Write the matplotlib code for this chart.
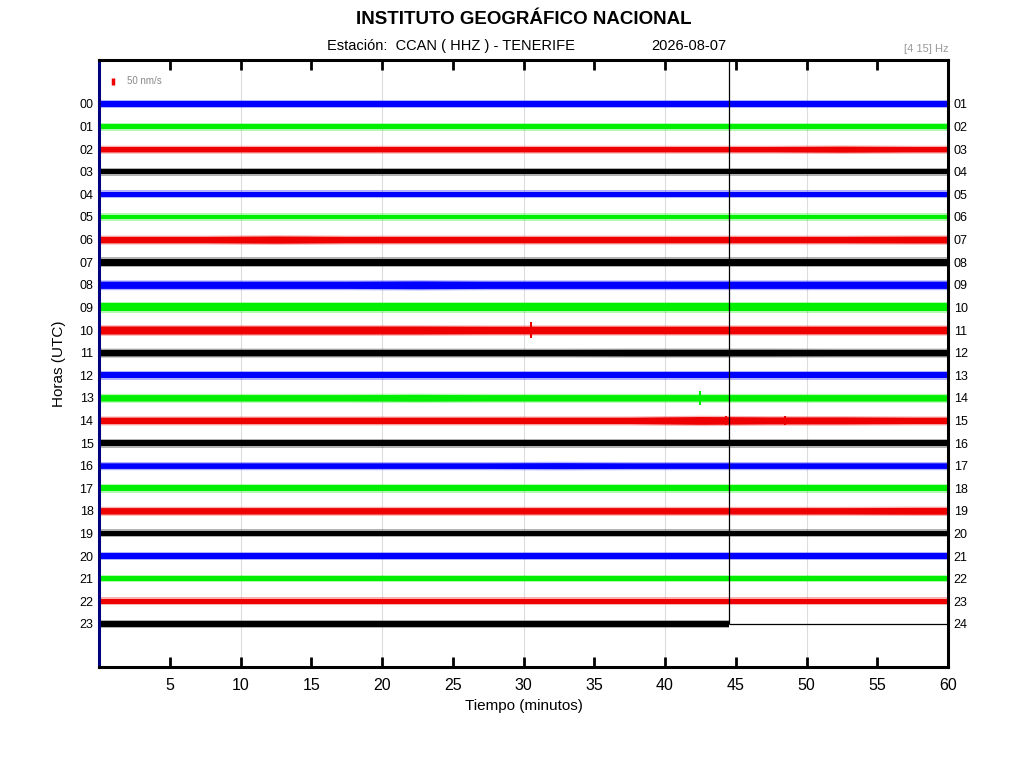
import numpy as np
import matplotlib.pyplot as plt

plt.rcParams['font.family'] = ['Liberation Sans', 'DejaVu Sans']

# helicorder: one row per hour, 0-60 minutes
hours = list(range(24))
left_labels = [f"{h:02d}" for h in hours]
right_labels = [f"{h + 1:02d}" for h in hours]
trace_colors = ['#0000ff', '#00ee00', '#ee0000', '#000000']

block_mid = [2.5, 7.5, 12.5, 17.5, 22.5, 27.5, 32.5, 37.5, 42.5, 47.5, 52.5, 57.5]

# half-width of each trace (pixels) per 5-minute block
amp = [
    [2.7, 2.7, 2.7, 2.7, 2.7, 2.7, 2.7, 2.7, 2.7, 2.7, 2.7, 2.7],  # 00
    [2.7, 2.7, 2.7, 2.7, 2.7, 2.7, 2.7, 2.7, 2.7, 2.7, 2.7, 2.7],  # 01
    [2.7, 2.7, 2.7, 2.7, 2.7, 2.7, 2.7, 2.7, 2.7, 2.7, 3.0, 2.7],  # 02
    [2.7, 2.7, 2.7, 2.7, 2.7, 2.7, 2.7, 2.7, 2.7, 2.7, 2.7, 2.7],  # 03
    [2.7, 2.7, 2.7, 2.7, 2.7, 2.7, 2.7, 2.7, 2.7, 2.7, 2.7, 2.7],  # 04
    [2.4, 2.4, 2.4, 2.4, 2.4, 2.4, 2.4, 2.4, 2.4, 2.4, 2.4, 2.4],  # 05
    [3.2, 3.2, 3.6, 3.2, 3.2, 3.2, 3.2, 3.2, 3.2, 3.2, 3.2, 3.4],  # 06
    [3.6, 3.6, 3.6, 3.6, 3.6, 3.6, 3.6, 3.6, 3.6, 3.6, 3.6, 3.6],  # 07
    [3.6, 3.6, 3.6, 3.6, 3.9, 3.6, 3.6, 3.6, 3.6, 3.6, 3.6, 3.6],  # 08
    [4.0, 4.0, 4.0, 4.0, 4.0, 4.0, 4.0, 4.0, 4.0, 4.0, 4.0, 4.0],  # 09
    [4.0, 4.0, 4.0, 4.0, 4.0, 3.8, 3.8, 3.8, 3.8, 3.8, 3.8, 3.8],  # 10
    [3.2, 3.2, 3.2, 3.2, 3.2, 3.2, 3.2, 3.3, 3.3, 3.3, 3.2, 3.2],  # 11
    [3.2, 3.2, 3.2, 3.2, 3.2, 3.2, 3.2, 3.2, 3.2, 3.2, 3.2, 3.2],  # 12
    [3.2, 3.2, 3.2, 3.2, 3.4, 3.2, 3.2, 3.2, 3.2, 3.2, 3.2, 3.2],  # 13
    [3.2, 3.2, 3.2, 3.2, 3.2, 3.2, 3.2, 3.2, 3.9, 3.5, 3.5, 3.2],  # 14
    [3.2, 3.2, 3.2, 3.2, 3.2, 3.2, 3.2, 3.2, 3.2, 3.2, 3.2, 3.2],  # 15
    [2.8, 2.8, 2.8, 2.8, 2.8, 2.8, 3.0, 2.8, 2.8, 2.8, 2.8, 2.8],  # 16
    [3.2, 3.2, 3.2, 3.2, 3.2, 3.2, 3.2, 3.2, 3.2, 3.2, 3.2, 3.2],  # 17
    [3.2, 3.2, 3.2, 3.2, 3.2, 3.2, 3.2, 3.2, 3.2, 3.2, 3.2, 3.4],  # 18
    [2.7, 2.7, 2.7, 2.7, 2.7, 2.7, 2.7, 2.7, 2.7, 2.7, 2.7, 2.7],  # 19
    [2.7, 2.7, 2.7, 2.7, 2.7, 2.7, 2.7, 2.7, 2.7, 2.7, 2.7, 2.7],  # 20
    [2.4, 2.4, 2.4, 2.4, 2.4, 2.4, 2.4, 2.4, 2.4, 2.4, 2.4, 2.4],  # 21
    [2.7, 2.7, 2.7, 2.7, 2.7, 2.7, 2.7, 2.7, 2.7, 2.7, 2.7, 2.7],  # 22
    [2.7, 2.7, 2.7, 2.7, 2.7, 2.7, 2.7, 2.7, 2.7, 2.7, 2.7, 2.7],  # 23
]

# short transients (hour, minute, half-height in pixels)
event_hour = [10, 13, 14, 14]
event_min = [30.5, 42.5, 44.3, 48.5]
event_amp = [8.0, 7.0, 4.5, 4.5]

last_minute = 44.5  # current time on the last row
row_px = 22.6       # pixels between two rows
fringe_px = 1.3     # ragged edge of the noise around the dense core

fig = plt.figure(figsize=(10.24, 7.68), dpi=100)
ax = fig.add_axes([0.0967, 0.1315, 0.8291, 0.7904])
ax.set_xlim(0, 60)
ax.set_ylim(24.91, -1.947)

for m in [10, 20, 30, 40, 50]:
    ax.axvline(m, color='#dddddd', lw=0.8, zorder=0)

for h in hours:
    col = trace_colors[h % 4]
    xs = np.array([0.0] + block_mid + [60.0])
    a = np.array([amp[h][0]] + amp[h] + [amp[h][-1]]) / row_px
    if h == 23:
        keep = xs < last_minute
        xs = np.append(xs[keep], last_minute)
        a = np.append(a[keep], a[keep][-1])
    f = fringe_px / row_px
    ax.fill_between(xs, h - a - f, h + a + f, color=col, lw=0, alpha=0.3, zorder=2)
    ax.fill_between(xs, h - a, h + a, color=col, lw=0, zorder=2)

for h, m, a in zip(event_hour, event_min, event_amp):
    ax.vlines(m, h - a / row_px, h + a / row_px, color=trace_colors[h % 4], lw=1.5, zorder=3)

ax.vlines(last_minute, -1.947, 23, color='k', lw=0.9, zorder=4)
ax.hlines(23, last_minute, 60, color='k', lw=0.9, zorder=4)

# amplitude scale
ax.vlines(0.99, -1.15, -0.84, color='#ee0000', lw=2.5)
ax.text(1.98, -1.0, '50 nm/s', color='#888888', fontsize=7, va='center')

ax.set_xticks(range(5, 61, 5))
ax.tick_params(axis='x', direction='in', length=7, width=2, top=True, labelsize=11.5, pad=8)
ax.set_yticks(hours)
ax.set_yticklabels(left_labels)
ax.tick_params(axis='y', length=0, labelsize=9, pad=4)
for s in ax.spines.values():
    s.set_linewidth(2.2)
ax.spines['left'].set_color('#000080')

ax2 = ax.twinx()
ax2.set_ylim(ax.get_ylim())
ax2.set_yticks(hours)
ax2.set_yticklabels(right_labels)
ax2.tick_params(axis='y', length=0, labelsize=9, pad=4)
for s in ax2.spines.values():
    s.set_visible(False)

ax.set_xlabel('Tiempo (minutos)', fontsize=11, labelpad=4)
ax.set_ylabel('Horas (UTC)', fontsize=11, labelpad=10)

fig.text(0.512, 0.974, 'INSTITUTO GEOGRÁFICO NACIONAL', ha='center', va='center',
         fontsize=13.5, fontweight='bold')
fig.text(0.44, 0.940, 'Estación:  CCAN ( HHZ ) - TENERIFE', ha='center', va='center', fontsize=10.5)
fig.text(0.673, 0.940, '2026-08-07', ha='center', va='center', fontsize=10.5)
fig.text(0.926, 0.936, '[4 15] Hz', ha='right', va='center', fontsize=8, color='#999999')

fig.savefig('out.png', dpi=100)
